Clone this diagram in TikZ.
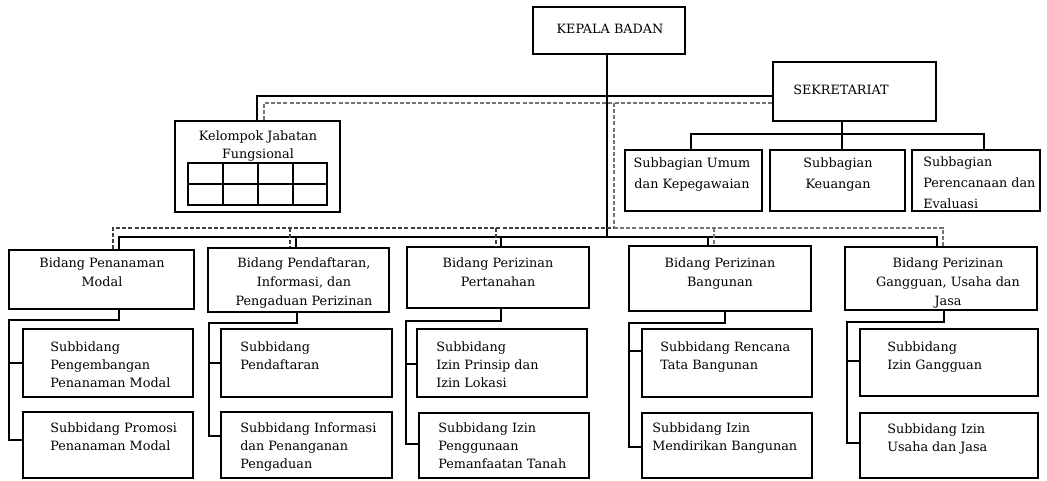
\documentclass[tikz,border=0pt]{standalone}
\usepackage{fontspec}
\setmainfont{DejaVu Serif}
\usetikzlibrary{fit}
\newcommand\bx[5]{\node[box, fit={(#2,#3) (#4,#5)}] (#1) {};}
\begin{document}
\begin{tikzpicture}[x=0.75pt,y=-0.75pt,
  box/.style={draw, line width=0.85pt, inner sep=0pt},
  conn/.style={line width=0.85pt},
  dsh/.style={draw=black!55, line width=0.8pt, dash pattern=on 3pt off 1.6pt},
  dshd/.style={draw=black!75, line width=0.8pt, dash pattern=on 3pt off 1.6pt},
  tx/.style={inner sep=0pt, font=\fontsize{9.6}{13.5}\selectfont, align=left},
  txc/.style={inner sep=0pt, font=\fontsize{9.6}{14.2}\selectfont, align=center},
  txs/.style={inner sep=0pt, font=\fontsize{9.6}{15.5}\selectfont}]
\useasboundingbox (0,0) rectangle (1047,480);

% top boxes
\bx{kep}{533}{7}{685}{54}
\bx{sek}{773}{62}{936}{121}
\bx{kel}{175}{121}{340}{212}
\bx{grid}{188}{163}{327}{205}
\bx{sbu}{625}{150}{762}{211}
\bx{sbk}{770}{150}{905}{211}
\bx{sbp}{912}{150}{1040}{211}

% (anchor base = baseline of the LAST line)
\node[txc, anchor=base] (kept) at (610,33) {KEPALA BADAN};
\node[txc, anchor=base] (sekt) at (841,94) {SEKRETARIAT};
\node[inner sep=0pt, font=\fontsize{9.6}{12.8}\selectfont, align=center, anchor=base] (kelt) at (258,158) {Kelompok Jabatan\\Fungsional};
\node[txs, align=center, anchor=base] (sbut) at (692,188) {Subbagian Umum\\dan Kepegawaian};
\node[txs, align=center, anchor=base] (sbkt) at (838,188) {Subbagian\\Keuangan};
\node[txs, align=left, anchor=base west] (sbpt) at (923,208) {Subbagian\\Perencanaan dan\\Evaluasi};

% grid inside Kelompok
\draw[conn] (grid.west |- 0,184) -- (grid.east |- 0,184);
\foreach \gx in {223,258,293} \draw[conn] (grid.north -| \gx,0) -- (grid.south -| \gx,0);

% Bidang boxes
\bx{b1}{9}{250}{194}{309}
\bx{b2}{208}{248}{389}{312}
\bx{b3}{407}{247}{589}{308}
\bx{b4}{629}{246}{811}{311}
\bx{b5}{845}{247}{1037}{310}

\node[txc, anchor=base] (b1t) at (102,286) {Bidang Penanaman\\Modal};
\node[txc, anchor=base] (b2t) at (304,305) {Bidang Pendaftaran,\\Informasi, dan\\Pengaduan Perizinan};
\node[txc, anchor=base] (b3t) at (498,286) {Bidang Perizinan\\Pertanahan};
\node[txc, anchor=base] (b4t) at (720,286) {Bidang Perizinan\\Bangunan};
\node[txc, anchor=base] (b5t) at (948,305) {Bidang Perizinan\\Gangguan, Usaha dan\\Jasa};

% Subbidang boxes
\bx{s1a}{23}{329}{193}{397}
\bx{s1b}{23}{412}{193}{478}
\bx{s2a}{221}{329}{392}{397}
\bx{s2b}{221}{412}{392}{478}
\bx{s3a}{417}{329}{587}{397}
\bx{s3b}{419}{413}{589}{478}
\bx{s4a}{642}{329}{812}{397}
\bx{s4b}{642}{413}{812}{478}
\bx{s5a}{860}{329}{1038}{396}
\bx{s5b}{860}{413}{1038}{478}

\node[tx, anchor=base west] (s1at) at (50,387) {Subbidang\\Pengembangan\\Penanaman Modal};
\node[tx, anchor=base west] (s1bt) at (50,450) {Subbidang Promosi\\Penanaman Modal};
\node[tx, anchor=base west] (s2at) at (240,369) {Subbidang\\Pendaftaran};
\node[tx, anchor=base west] (s2bt) at (240,468) {Subbidang Informasi\\dan Penanganan\\Pengaduan};
\node[tx, anchor=base west] (s3at) at (436,387) {Subbidang\\Izin Prinsip dan\\Izin Lokasi};
\node[tx, anchor=base west] (s3bt) at (438,468) {Subbidang Izin\\Penggunaan\\Pemanfaatan Tanah};
\node[tx, anchor=base west] (s4at) at (660,369) {Subbidang Rencana\\Tata Bangunan};
\node[tx, anchor=base west] (s4bt) at (652,450) {Subbidang Izin\\Mendirikan Bangunan};
\node[tx, anchor=base west] (s5at) at (887,369) {Subbidang\\Izin Gangguan};
\node[tx, anchor=base west] (s5bt) at (887,451) {Subbidang Izin\\Usaha dan Jasa};

% ---- solid connectors ----
\draw[conn] (kep.south -| 607,0) -- (607,237);
\draw[conn] (b1.north -| 119,0) -- (119,237) -- (937,237) -- (b5.north -| 937,0);
\foreach \cx/\bn in {296/b2,501/b3,708/b4} \draw[conn] (\cx,237) -- (\bn.north -| \cx,0);
\draw[conn] (kel.north -| 257,0) -- (257,96) -- (sek.west |- 0,96);
\draw[conn] (sek.south -| 842,0) -- (842,134);
\draw[conn] (sbu.north -| 691,0) -- (691,134) -- (984,134) -- (sbp.north -| 984,0);
\draw[conn] (842,134) -- (sbk.north -| 842,0);

% ---- dashed connectors ----
\draw[dsh] (kel.north -| 264,0) -- (264,103) -- (sek.west |- 0,103);
\draw[dsh] (614,103) -- (614,228);
\draw[dshd] (b1.north -| 113,0) -- (113,228) -- (614,228);
\draw[dsh] (614,228) -- (943,228) -- (b5.north -| 943,0);
\foreach \cx/\bn in {290/b2,496/b3} \draw[dshd] (\cx,228) -- (\bn.north -| \cx,0);
\draw[dsh] (714,228) -- (b4.north -| 714,0);

% ---- Bidang to Subbidang ----
\draw[conn] (b1.south -| 119,0) -- (119,320) -- (9,320) -- (9,440) -- (s1b.west |- 0,440);
\draw[conn] (9,363) -- (s1a.west |- 0,363);
\draw[conn] (b2.south -| 297,0) -- (297,323) -- (209,323) -- (209,436) -- (s2b.west |- 0,436);
\draw[conn] (209,363) -- (s2a.west |- 0,363);
\draw[conn] (b3.south -| 501,0) -- (501,321) -- (406,321) -- (406,444) -- (s3b.west |- 0,444);
\draw[conn] (406,364) -- (s3a.west |- 0,364);
\draw[conn] (b4.south -| 725,0) -- (725,323) -- (629,323) -- (629,447) -- (s4b.west |- 0,447);
\draw[conn] (629,351) -- (s4a.west |- 0,351);
\draw[conn] (b5.south -| 944,0) -- (944,322) -- (847,322) -- (847,443) -- (s5b.west |- 0,443);
\draw[conn] (847,361) -- (s5a.west |- 0,361);
\end{tikzpicture}
\end{document}
